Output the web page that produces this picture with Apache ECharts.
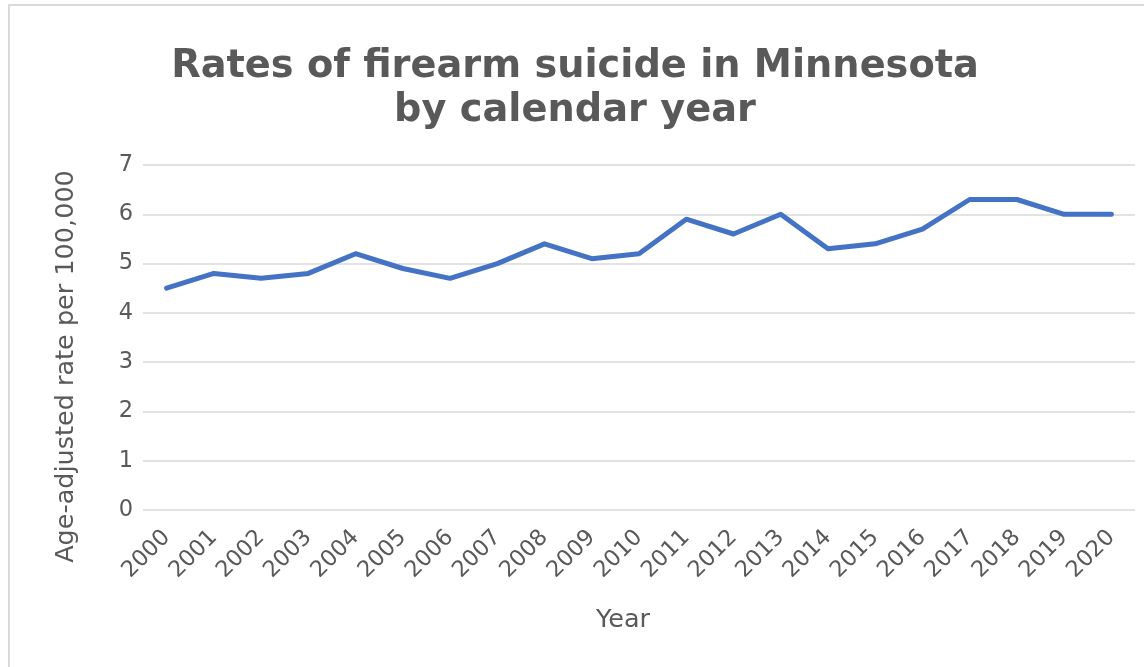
<!DOCTYPE html>
<html>
<head>
<meta charset="utf-8">
<script src="https://cdn.jsdelivr.net/npm/echarts@6/dist/echarts.min.js"></script>
<style>
html,body{margin:0;padding:0;background:#fff;overflow:hidden;}
#frame{position:absolute;left:8px;top:4px;width:1150px;height:680px;border:2px solid #d9d9d9;box-sizing:border-box;}
#chart{position:absolute;left:0;top:0;width:1144px;height:667px;}
</style>
</head>
<body>
<div id="frame"></div>
<div id="chart"></div>
<script>
const years = ["2000","2001","2002","2003","2004","2005","2006","2007","2008","2009","2010","2011","2012","2013","2014","2015","2016","2017","2018","2019","2020"];
const rates = [4.5,4.8,4.7,4.8,5.2,4.9,4.7,5.0,5.4,5.1,5.2,5.9,5.6,6.0,5.3,5.4,5.7,6.3,6.3,6.0,6.0];
const titleText = "Rates of firearm suicide in Minnesota\nby calendar year";
const yName = "Age-adjusted rate per 100,000";
const xName = "Year";
const FF = 'DejaVu Sans';

const chart = echarts.init(document.getElementById('chart'));
chart.setOption({
  animation: false,
  textStyle: {fontFamily: FF},
  title: {
    text: titleText,
    left: 570,
    top: 40,
    textAlign: 'center',
    textStyle: {fontFamily: FF, fontWeight: 'bold', fontSize: 38.3, color: '#595959', lineHeight: 44}
  },
  grid: {left: 143, right: 9, top: 165, bottom: 157},
  xAxis: {
    type: 'category',
    data: years,
    boundaryGap: true,
    name: xName,
    nameLocation: 'middle',
    nameGap: 97,
    nameTextStyle: {fontFamily: FF, fontSize: 25.5, color: '#595959', padding: [0, 32, 0, 0]},
    axisLine: {show: false},
    axisTick: {show: false},
    axisLabel: {rotate: 45, fontFamily: FF, fontSize: 22.5, color: '#595959', margin: 24, interval: 0}
  },
  yAxis: {
    type: 'value',
    min: 0, max: 7, interval: 1,
    name: yName,
    nameLocation: 'middle',
    nameGap: 64,
    nameTextStyle: {fontFamily: FF, fontSize: 25.5, color: '#595959', padding: [0, 58, 0, 0]},
    axisLine: {show: false},
    axisTick: {show: false},
    axisLabel: {fontFamily: FF, fontSize: 22.5, color: '#595959', margin: 10},
    splitLine: {lineStyle: {color: '#d9d9d9', width: 1.5}}
  },
  series: [{
    type: 'line',
    data: rates,
    symbol: 'none',
    lineStyle: {color: '#4472C4', width: 5, cap: 'round', join: 'round'}
  }]
});
</script>
</body>
</html>
